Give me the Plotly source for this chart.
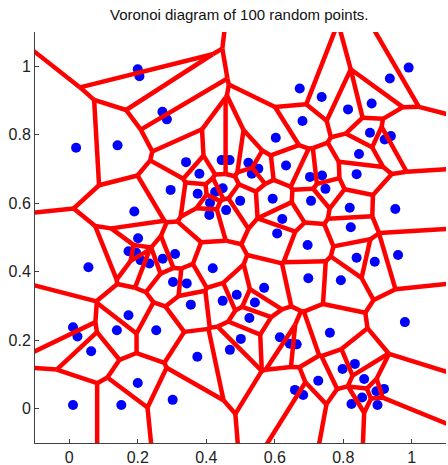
import plotly.graph_objects as go

# Point coordinates
xs = [0.200, 0.205, 0.272, 0.285, 0.020, 0.141, 0.673, 0.681, 0.603, 0.341,
      0.445, 0.468, 0.523, 0.552, 0.991, 0.936, 0.737, 0.814, 0.883, 0.878,
      0.921, 0.939, 0.846, 0.839, 0.296, 0.190, 0.201, 0.173, 0.195, 0.208,
      0.234, 0.273, 0.309, 0.303, 0.056, 0.380, 0.533, 0.703, 0.375, 0.448,
      0.426, 0.411, 0.458, 0.499, 0.409, 0.594, 0.706, 0.622, 0.607, 0.696,
      0.419, 0.698, 0.343, 0.569, 0.489, 0.448, 0.355, 0.542, 0.738, 0.748,
      0.819, 0.952, 0.822, 0.839, 0.892, 0.960, 0.793, 0.173, 0.011, 0.024,
      0.139, 0.254, 0.064, 0.200, 0.302, 0.011, 0.152, 0.526, 0.501, 0.469,
      0.374, 0.615, 0.644, 0.664, 0.659, 0.683, 0.980, 0.761, 0.798, 0.834,
      0.861, 0.727, 0.919, 0.897, 0.855, 0.824, 0.900, 0.633]
ys = [0.991, 0.971, 0.867, 0.845, 0.762, 0.769, 0.935, 0.840, 0.791, 0.720,
      0.726, 0.726, 0.718, 0.701, 0.996, 0.964, 0.910, 0.874, 0.891, 0.806,
      0.786, 0.796, 0.744, 0.685, 0.639, 0.576, 0.498, 0.460, 0.456, 0.434,
      0.424, 0.438, 0.452, 0.370, 0.413, 0.686, 0.686, 0.677, 0.628, 0.644,
      0.633, 0.601, 0.580, 0.607, 0.566, 0.613, 0.607, 0.554, 0.512, 0.478,
      0.410, 0.381, 0.366, 0.353, 0.333, 0.315, 0.304, 0.310, 0.681, 0.642,
      0.587, 0.583, 0.530, 0.441, 0.429, 0.449, 0.375, 0.273, 0.238, 0.211,
      0.229, 0.229, 0.168, 0.075, 0.026, 0.011, 0.011, 0.265, 0.204, 0.172,
      0.152, 0.209, 0.190, 0.188, 0.055, 0.040, 0.253, 0.222, 0.116, 0.131,
      0.087, 0.082, 0.058, 0.051, 0.033, 0.014, 0.011, 0.710]

title_text = "Voronoi diagram of 100 random points."
tick_vals = [0, 0.2, 0.4, 0.6, 0.8, 1]
tick_text = ["0", "0.2", "0.4", "0.6", "0.8", "1"]


def circumcircle(a, b, c):
    ax, ay = a
    bx, by = b
    cx, cy = c
    d = 2 * (ax * (by - cy) + bx * (cy - ay) + cx * (ay - by))
    ux = ((ax * ax + ay * ay) * (by - cy) + (bx * bx + by * by) * (cy - ay) + (cx * cx + cy * cy) * (ay - by)) / d
    uy = ((ax * ax + ay * ay) * (cx - bx) + (bx * bx + by * by) * (ax - cx) + (cx * cx + cy * cy) * (bx - ax)) / d
    r2 = (ax - ux) ** 2 + (ay - uy) ** 2
    return ux, uy, r2


def delaunay(points):
    pts = list(points)
    n = len(pts)
    big = 1000.0
    pts += [(-big, -big), (big * 2, -big), (0.5, big * 2)]
    tris = [(n, n + 1, n + 2)]
    cc = {tris[0]: circumcircle(pts[n], pts[n + 1], pts[n + 2])}
    for i in range(n):
        px, py = pts[i]
        bad = []
        for t in tris:
            ux, uy, r2 = cc[t]
            if (px - ux) ** 2 + (py - uy) ** 2 < r2:
                bad.append(t)
        edge_count = {}
        for t in bad:
            for e in ((t[0], t[1]), (t[1], t[2]), (t[2], t[0])):
                k = tuple(sorted(e))
                edge_count[k] = edge_count.get(k, 0) + 1
        bad_set = set(bad)
        tris = [t for t in tris if t not in bad_set]
        for t in bad:
            del cc[t]
        for (a, b), cnt in edge_count.items():
            if cnt == 1:
                t = (a, b, i)
                tris.append(t)
                cc[t] = circumcircle(pts[a], pts[b], pts[i])
    tris = [t for t in tris if max(t) < n]
    return tris, cc


points = list(zip(xs, ys))
tris, cc = delaunay(points)

edge_tris = {}
for t in tris:
    for e in ((t[0], t[1]), (t[1], t[2]), (t[2], t[0])):
        k = tuple(sorted(e))
        edge_tris.setdefault(k, []).append(t)

lx, ly = [], []
for (a, b), ts in edge_tris.items():
    if len(ts) == 2:
        c1 = cc[ts[0]]
        c2 = cc[ts[1]]
        lx += [c1[0], c2[0], None]
        ly += [c1[1], c2[1], None]
    else:
        t = ts[0]
        third = [v for v in t if v != a and v != b][0]
        ax_, ay_ = points[a]
        bx_, by_ = points[b]
        tx, ty = points[third]
        mx, my = (ax_ + bx_) / 2, (ay_ + by_) / 2
        nx, ny = -(by_ - ay_), (bx_ - ax_)
        if nx * (tx - mx) + ny * (ty - my) > 0:
            nx, ny = -nx, -ny
        ln = (nx * nx + ny * ny) ** 0.5
        c = cc[t]
        lx += [c[0], c[0] + 5 * nx / ln, None]
        ly += [c[1], c[1] + 5 * ny / ln, None]

fig = go.Figure()
fig.add_trace(go.Scatter(x=xs, y=ys, mode="markers",
                         marker=dict(color="#0000FF", size=10, line=dict(width=0)),
                         hoverinfo="skip", showlegend=False))
fig.add_trace(go.Scatter(x=lx, y=ly, mode="lines",
                         line=dict(color="#FF0000", width=4.5),
                         hoverinfo="skip", showlegend=False))

axis_common = dict(
    showgrid=False, zeroline=False, showline=True, linecolor="#404040", linewidth=1,
    ticks="inside", ticklen=4, tickcolor="#404040",
    tickvals=tick_vals, ticktext=tick_text,
    tickfont=dict(family="Liberation Sans, Arial", size=16, color="#222222"),
    mirror=False, automargin=False,
)
fig.update_layout(
    width=448, height=465,
    margin=dict(l=35, r=2, t=32, b=22),
    paper_bgcolor="white", plot_bgcolor="white",
    title=dict(text=title_text, x=0.534, xanchor="center", y=0.968, yanchor="middle",
               font=dict(family="Liberation Sans, Arial", size=15, color="#111111")),
    xaxis=dict(range=[-0.1, 1.1], **axis_common),
    yaxis=dict(range=[-0.1, 1.1], **axis_common),
)
fig.write_html("out.html")
